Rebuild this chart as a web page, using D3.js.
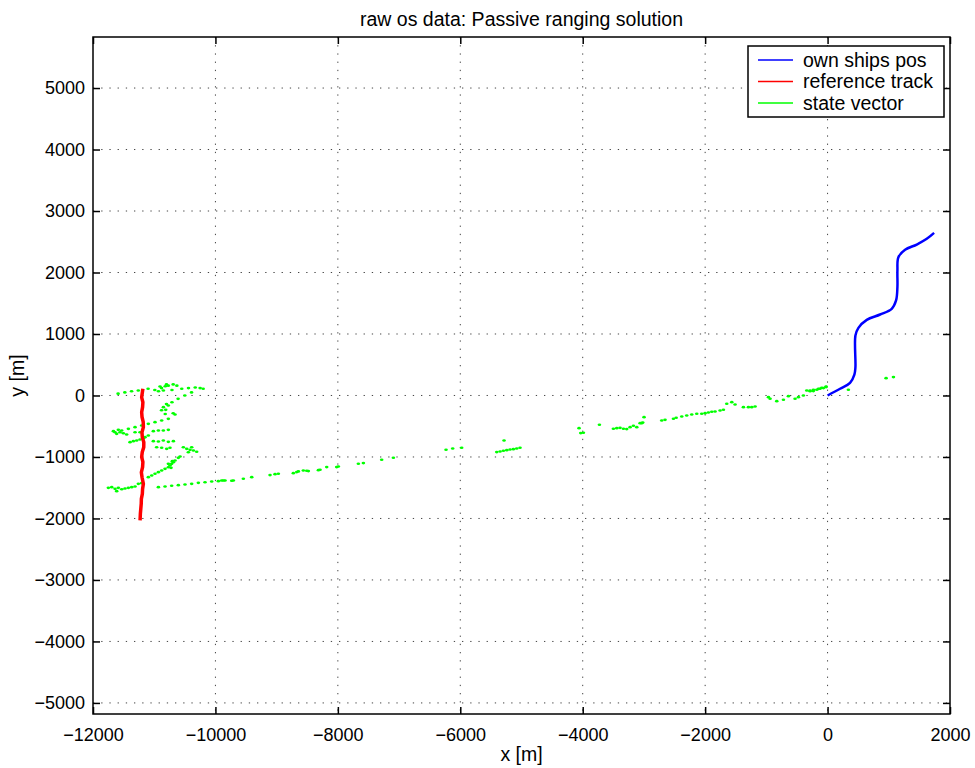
<!DOCTYPE html>
<html>
<head>
<meta charset="utf-8">
<script src="https://cdn.jsdelivr.net/npm/d3@7"></script>
<style>
  html, body { margin: 0; padding: 0; background: #fff; }
  text { font-family: "Liberation Sans", Arial, Helvetica, sans-serif; }
</style>
</head>
<body>
<svg id="chart" width="975" height="768"></svg>
<script>
// ---- data (metres) ----
const title = "raw os data: Passive ranging solution";
const xTicks = [-12000, -10000, -8000, -6000, -4000, -2000, 0, 2000];
const yTicks = [-5000, -4000, -3000, -2000, -1000, 0, 1000, 2000, 3000, 4000, 5000];
const seriesNames = ["own ships pos", "reference track", "state vector"];

const ownShipX = [0, 204, 367, 438, 455, 455, 504, 640, 858, 1048, 1119, 1141, 1141, 1157, 1266, 1457, 1620, 1740];
const ownShipY = [0, 109, 206, 341, 460, 975, 1100, 1230, 1317, 1410, 1545, 1762, 2033, 2249, 2369, 2455, 2548, 2645];

const refX = [-11185, -11195, -11205, -11185, -11190, -11205, -11199, -11180, -11177, -11200, -11194, -11170, -11171, -11195, -11205, -11185, -11190, -11210, -11199, -11177, -11190, -11194, -11210, -11212, -11226, -11231];
const refY = [110, 40, -30, -110, -190, -270, -350, -430, -515, -600, -680, -760, -840, -920, -1000, -1080, -1165, -1250, -1330, -1436, -1520, -1600, -1680, -1760, -1920, -2030];

const stateX = [
  -11590, -11480, -11370, -11260, -11100, -10990, -10930, -10880, -10820, -10770, -10690, -10630, -10710, -10850, -10550, -10440, -10330, -10250, -10200, -10800, -10905,
  -10390, -10500, -10610, -10710, -10800, -10850, -10880, -10820, -10690, -10660, -10770, -10812,
  -11640, -11531, -11422, -11313, -11205, -11096, -10987, -10878, -10769,
  -11667, -11613, -11559, -11504, -11450, -11586, -11313, -11232, -11014, -10932, -10851, -10769,
  -11395, -11341, -11286, -11232, -11177, -11150, -11096,
  -11014, -10932, -10851, -10769, -10687, -10960, -10878, -10796, -10742,
  -10524, -10469, -10415, -10360, -10306, -10388, -10442,
  -11096, -11041, -10987, -10932, -10878, -10823, -10769, -10742, -10715, -10687, -10660, -10606, -10578, -10769, -10725, -10704,
  -11749, -11694, -11640, -11586, -11531, -11477, -11422, -11368, -11313, -11259, -11205, -11613,
  -10932, -10823, -10715, -10606, -10497, -10388, -10279, -10170, -10061, -9952, -9870,
  -9898, -9843, -9734, -9707, -9544, -9407, -9108, -9026, -8972, -8727, -8672, -8645, -8564, -8509, -8482, -8318, -8291, -8182, -8019, -7992, -7665, -7583, -7284, -7093,
  -6233, -6124, -5977, -5285, -5405, -5350, -5296, -5241, -5187, -5133, -5078, -5024,
  -4060, -4032, -3989, -3727, -3499, -3444, -3390, -3335, -3281, -3226, -3172, -3117, -3063, -3019, -2998,
  -3036, -2709, -2655, -2518, -2473, -2382, -2301, -2219, -2137, -2056, -2001, -1947, -1892, -1838, -1756, -1701,
  -1647, -1565, -1511, -1375, -1293, -1239, -1184, -966, -939, -830, -721, -640, -531, -476, -395, -340, -286, -231, -149, -95, -24,
  -286, -232, -177, -123, -68, -25, 340, 956, 1076
];
const stateY = [
  30, 50, 70, 80, 110, 90, 70, 120, 150, 160, 180, 160, 90, 80, 110, 120, 130, 120, 110, 180, 146,
  50, 0, -55, -110, -140, -190, -240, -300, -290, -310, -163, -234,
  -597, -570, -543, -515, -488, -461, -434, -407, -380,
  -580, -624, -597, -613, -635, -559, -597, -597, -580, -570, -570, -559,
  -759, -743, -732, -716, -694, -678, -651,
  -743, -748, -732, -754, -743, -841, -851, -868, -851,
  -841, -868, -884, -895, -916, -841, -922,
  -1328, -1301, -1274, -1247, -1220, -1193, -1166, -1139, -1112, -1085, -1057, -1014, -992, -1112, -1177, -1068,
  -1502, -1491, -1518, -1502, -1524, -1513, -1502, -1491, -1480, -1437, -1426, -1556,
  -1491, -1480, -1469, -1458, -1448, -1437, -1421, -1410, -1399, -1393, -1383,
  -1382, -1382, -1387, -1382, -1355, -1328, -1295, -1279, -1273, -1263, -1246, -1235, -1219, -1225, -1230, -1214, -1208, -1165, -1165, -1154, -1111, -1100, -1046, -1013,
  -883, -862, -851, -732, -921, -910, -900, -889, -878, -873, -862, -851,
  -531, -612, -607, -477, -542, -531, -526, -542, -547, -515, -493, -515, -450, -439, -352,
  -450, -406, -396, -379, -363, -341, -325, -309, -298, -298, -287, -276, -265, -260, -244, -233,
  -135, -108, -146, -190, -190, -190, -179, -27, -54, -92, -70, -11, -54, -27, 0, 81, 70, 92, 108, 125, 146,
  82, 71, 93, 109, 120, 136, 93, 282, 299
];

const colors = ["#0000ff", "#ff0000", "#00ff00"];

// ---- layout ----
const svg = d3.select("#chart");
const mLeft = 93, mRight = 950, mTop = 37, mBottom = 714;
const x = d3.scaleLinear().domain([-12000, 2000]).range([mLeft, mRight]);
const y = d3.scaleLinear().domain([-5180, 5830]).range([mBottom, mTop]);

svg.append("rect").attr("width", 975).attr("height", 768).attr("fill", "#fff");

// grid
const grid = svg.append("g").attr("stroke", "#444").attr("stroke-width", 1).attr("stroke-dasharray", "1.3 6.9");
grid.selectAll("line.gx").data(xTicks.filter(d => d > -12000 && d < 2000)).join("line").attr("class", "gx")
  .attr("x1", d => x(d)).attr("x2", d => x(d)).attr("y1", mTop).attr("y2", mBottom);
grid.selectAll("line.gy").data(yTicks).join("line").attr("class", "gy")
  .attr("y1", d => y(d)).attr("y2", d => y(d)).attr("x1", mLeft).attr("x2", mRight);

// axes (ticks inward)
const fontSize = 18;
const labelSize = 19.5;
const fmt = d => d3.format("d")(d).replace("-", "\u2212");
const xAxis = d3.axisBottom(x).tickValues(xTicks).tickSize(-7).tickPadding(14).tickFormat(fmt);
const yAxis = d3.axisLeft(y).tickValues(yTicks).tickSize(-7).tickPadding(8).tickFormat(fmt);
const xAxisTop = d3.axisTop(x).tickValues(xTicks).tickSize(-7).tickFormat("");
const yAxisRight = d3.axisRight(y).tickValues(yTicks).tickSize(-7).tickFormat("");

function styleAxis(g) {
  g.select(".domain").remove();
  g.selectAll("line").attr("stroke", "#000").attr("stroke-width", 1.5);
  g.selectAll("text").attr("font-size", fontSize).attr("fill", "#000")
    .attr("font-family", '"Liberation Sans", Arial, sans-serif');
}
svg.append("g").attr("transform", `translate(0,${mBottom})`).call(xAxis).call(styleAxis);
svg.append("g").attr("transform", `translate(${mLeft},0)`).call(yAxis).call(styleAxis);
svg.append("g").attr("transform", `translate(0,${mTop})`).call(xAxisTop).call(styleAxis);
svg.append("g").attr("transform", `translate(${mRight},0)`).call(yAxisRight).call(styleAxis);

// data
const plot = svg.append("g");
const line = d3.line().x(d => x(d[0])).y(d => y(d[1]));

const stateData = stateX.map((v, i) => [v, stateY[i]]);
plot.selectAll("ellipse.sv").data(stateData).join("ellipse").attr("class", "sv")
  .attr("cx", d => x(d[0])).attr("cy", d => y(d[1])).attr("rx", 1.8).attr("ry", 1.3)
  .attr("fill", colors[2]);

plot.append("path").datum(refX.map((v, i) => [v, refY[i]]))
  .attr("d", line).attr("fill", "none").attr("stroke", colors[1])
  .attr("stroke-width", 3.5).attr("stroke-linejoin", "round");

const smoothLine = d3.line().x(d => x(d[0])).y(d => y(d[1])).curve(d3.curveCatmullRom);
plot.append("path").datum(ownShipX.map((v, i) => [v, ownShipY[i]]))
  .attr("d", smoothLine).attr("fill", "none").attr("stroke", colors[0])
  .attr("stroke-width", 2.5).attr("stroke-linejoin", "round");

// frame
svg.append("rect").attr("x", mLeft).attr("y", mTop).attr("width", mRight - mLeft).attr("height", mBottom - mTop)
  .attr("fill", "none").attr("stroke", "#000").attr("stroke-width", 1.5);

// legend
const lg = svg.append("g");
lg.append("rect").attr("x", 748).attr("y", 46).attr("width", 196).attr("height", 71)
  .attr("fill", "#fff").attr("stroke", "#000").attr("stroke-width", 1.5);
seriesNames.forEach((name, i) => {
  const cy = 60 + i * 21.5;
  lg.append("line").attr("x1", 758).attr("x2", 793).attr("y1", cy).attr("y2", cy)
    .attr("stroke", colors[i]).attr("stroke-width", 1.5);
  lg.append("text").attr("x", 803).attr("y", cy + 6.5).attr("font-size", labelSize)
    .attr("fill", "#000").text(name);
});

// titles
svg.append("text").attr("x", (mLeft + mRight) / 2).attr("y", 26).attr("text-anchor", "middle")
  .attr("font-size", labelSize).text(title);
svg.append("text").attr("x", (mLeft + mRight) / 2).attr("y", 761).attr("text-anchor", "middle")
  .attr("font-size", labelSize).text("x [m]");
svg.append("text").attr("transform", `translate(24,${(mTop + mBottom) / 2}) rotate(-90)`)
  .attr("text-anchor", "middle").attr("font-size", labelSize).text("y [m]");
</script>
</body>
</html>
